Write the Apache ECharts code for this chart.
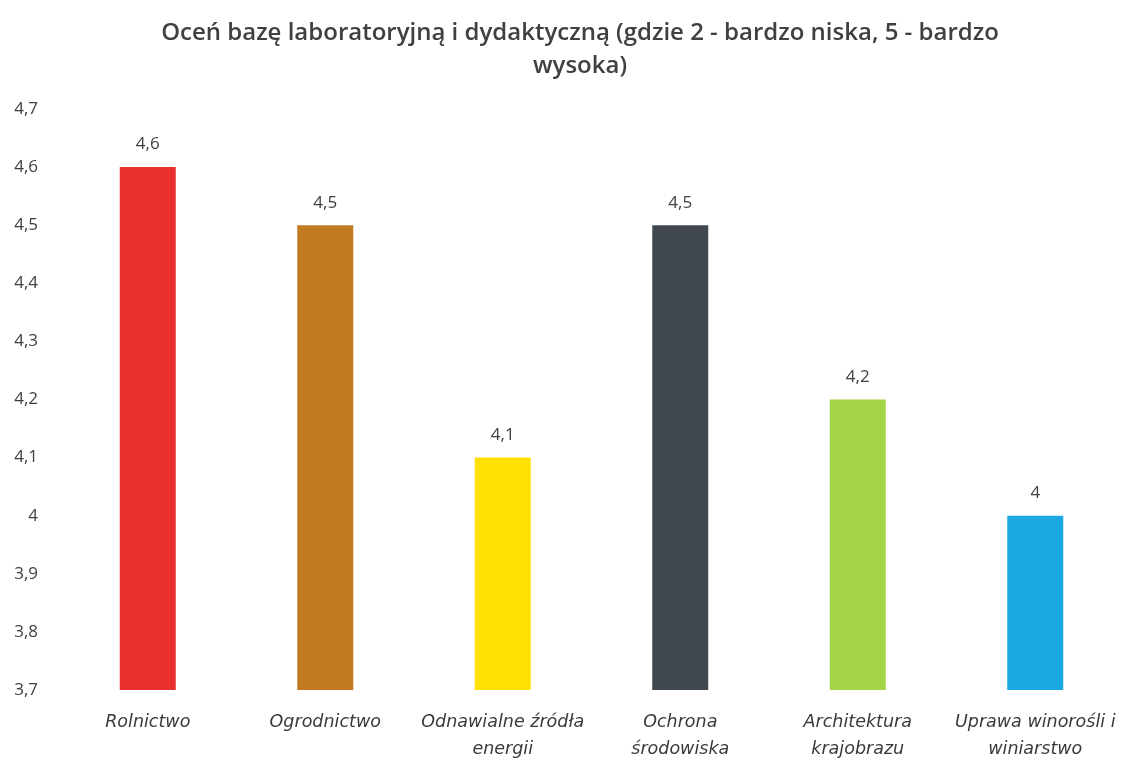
<!DOCTYPE html>
<html>
<head>
<meta charset="utf-8">
<script src="https://cdn.jsdelivr.net/npm/echarts@6/dist/echarts.min.js"></script>
<style>
  html, body { margin: 0; padding: 0; background: #fff; }
  #chart { width: 1128px; height: 760px; }
</style>
</head>
<body>
<div id="chart"></div>
<script>
var titleText = "Oceń bazę laboratoryjną i dydaktyczną (gdzie 2 - bardzo niska, 5 - bardzo\nwysoka)";
var categories = [
  "Rolnictwo",
  "Ogrodnictwo",
  "Odnawialne źródła\nenergii",
  "Ochrona\nśrodowiska",
  "Architektura\nkrajobrazu",
  "Uprawa winorośli i\nwiniarstwo"
];
var values = [4.6, 4.5, 4.1, 4.5, 4.2, 4.0];
var barColors = ["#e8302e", "#c17a22", "#ffe000", "#40474e", "#a4d448", "#1ba8e3"];
var yMin = 3.7, yMax = 4.7, yStep = 0.1;

// liczby z przecinkiem dziesiętnym
function fmt(v) {
  var r = Math.round(v * 10) / 10;
  return String(r).replace(".", ",");
}

var chart = echarts.init(document.getElementById("chart"));
chart.setOption({
  backgroundColor: "#fff",
  animation: false,
  title: {
    text: titleText,
    left: 575,
    textAlign: "center",
    top: 12,
    textStyle: {
      fontFamily: "Open Sans",
      fontWeight: 600,
      fontSize: 24,
      lineHeight: 33,
      color: "#404040"
    }
  },
  grid: { left: 59, right: 4, top: 109, bottom: 70, outerBoundsMode: "none" },
  xAxis: {
    type: "category",
    data: categories,
    axisLine: { show: false },
    axisTick: { show: false },
    axisLabel: {
      interval: 0,
      margin: 19,
      fontFamily: "DejaVu Sans",
      fontStyle: "italic",
      fontSize: 17.5,
      lineHeight: 27,
      color: "#3a3a3a"
    }
  },
  yAxis: {
    type: "value",
    min: yMin,
    max: yMax,
    interval: yStep,
    splitLine: { show: false },
    axisLine: { show: false },
    axisTick: { show: false },
    axisLabel: {
      margin: 21,
      fontFamily: "Open Sans",
      fontSize: 17,
      color: "#404040",
      formatter: fmt
    }
  },
  series: [
    {
      type: "bar",
      barWidth: 56,
      data: values.map(function (v, i) {
        return { value: v, itemStyle: { color: barColors[i] } };
      }),
      label: {
        show: true,
        position: "top",
        distance: 14,
        fontFamily: "Open Sans",
        fontSize: 17,
        color: "#404040",
        formatter: function (p) { return fmt(p.value); }
      }
    }
  ]
});
</script>
</body>
</html>
